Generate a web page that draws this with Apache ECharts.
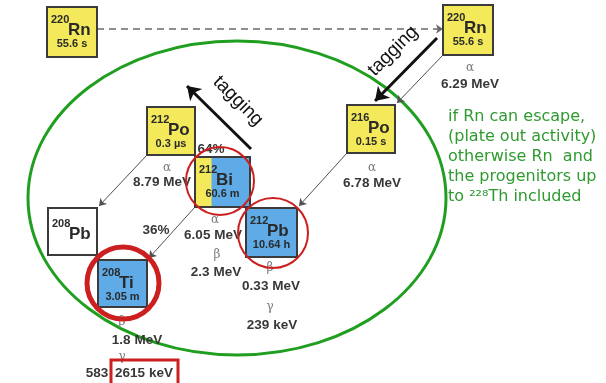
<!DOCTYPE html>
<html><head><meta charset="utf-8">
<script src="https://cdn.jsdelivr.net/npm/echarts@6/dist/echarts.min.js"></script>
<style>html,body{margin:0;padding:0;background:#fff}#c{width:606px;height:383px}</style>
</head><body><div id="c"></div>
<script>
// ---------- values ----------
const massNumbers    = ['220','220','212','216','212','208','212','208'];
const elementSymbols = ['Rn','Rn','Po','Po','Bi','Pb','Pb','Ti'];
const halfLives      = ['55.6 s','55.6 s','0.3 µs','0.15 s','60.6 m','','10.64 h','3.05 m'];
const decayTypes     = ['α','α','α','α','β','β','γ','β','γ'];
const decayEnergies  = ['6.29 MeV','6.78 MeV','8.79 MeV','6.05 MeV','2.3 MeV','0.33 MeV','239 keV','1.8 MeV','583','2615 keV'];
const branchRatios   = ['64%','36%'];
const tagLabels      = ['tagging','tagging'];
const noteLines      = ['if Rn can escape,','(plate out activity)','otherwise Rn  and','the progenitors up','to ²²⁸Th included'];

// ---------- layout (diagram coordinates) ----------
const boxLeft   = [47,443,147,347,195,48,246,98];
const boxTop    = [7,5,107,105,157,208,208,260];
const boxWidth  = [50,50,48,48,55,49,51,49];
const boxHeight = [50,50,48,48,50,47,49,47];
const boxFill   = ['y','y','y','y','yb','w','b','b'];
const typeX = [470,372,167,215,217,270,270,122,122];
const typeY = [68,168,168,220,255,268,307,322,357];
const energyX = [470,372,162,213,216,271,272,137,97,144];
const energyY = [84,183,182,235,272,286,325,340,373,373];
const branchX = [211,156];
const branchY = [149,230];
const tagX = [238,393];
const tagY = [101,51];
const tagAngle = [-45,45];
const decayLinks = [
  [[97,29],[443,29]],
  [[443,55],[397,103]],
  [[347,153],[299,206]],
  [[147,155],[99,206]],
  [[195,207],[149,258]]
];
const tagArrows = [[[251,149],[187,86]],[[437,38],[375,101]]];
const circleCenters = [[220,181],[273,233],[123,283]];
const circleSizes = [68,70,72];
const circleWidths = [2,2,5];
const ellipseCenter = [237,198];
const ellipseRadii = [209,157];
const noteX = 448, noteY0 = 117, noteStep = 20;
const highlightBox = [111,360,67,28];

const YELLOW = '#f3e95a', BLUE = '#5eabe8', EDGE = '#3b3b3b', RED = '#cc1f1f', GREEN = '#1f9e1f';

const chart = echarts.init(document.getElementById('c'), null, {renderer:'canvas'});

function boxRender(params, api) {
  const i = params.dataIndex;
  const p = api.coord([api.value(0), api.value(1)]);
  const s = api.size([boxWidth[i], boxHeight[i]]);
  const x = p[0], y = p[1], w = s[0], h = s[1];
  const ch = [];
  const f = boxFill[i];
  if (f === 'yb') {
    ch.push({type:'rect', shape:{x, y, width:w, height:h}, style:{fill:BLUE}});
    ch.push({type:'rect', shape:{x, y, width:w*0.3, height:h}, style:{fill:YELLOW}});
  } else {
    ch.push({type:'rect', shape:{x, y, width:w, height:h}, style:{fill: f==='y'?YELLOW:(f==='b'?BLUE:'#ffffff')}});
  }
  ch.push({type:'rect', shape:{x, y, width:w, height:h}, style:{fill:'none', stroke:EDGE, lineWidth:2}});
  const dy = halfLives[i] ? 0 : 3;
  ch.push({type:'text', x:x+4, y:y+13+dy, style:{text:massNumbers[i], fill:'#2a2a2a', font:'bold 11px "Liberation Sans", Arial, sans-serif', align:'left', verticalAlign:'middle'}});
  ch.push({type:'text', x:x+21, y:y+23+dy, style:{text:elementSymbols[i], fill:'#2a2a2a', font:'bold 17px "Liberation Sans", Arial, sans-serif', align:'left', verticalAlign:'middle'}});
  if (halfLives[i]) ch.push({type:'text', x:x+w/2, y:y+37, style:{text:halfLives[i], fill:'#2a2a2a', font:'bold 11px "Liberation Sans", Arial, sans-serif', align:'center', verticalAlign:'middle'}});
  return {type:'group', children:ch};
}

function textRender(texts, font, color, angles) {
  return function(params, api) {
    const i = params.dataIndex;
    const p = api.coord([api.value(0), api.value(1)]);
    return {type:'text', x:p[0], y:p[1], rotation: angles ? angles[i]*Math.PI/180 : 0,
      style:{text:texts[i], font, fill:color, align:'center', verticalAlign:'middle'}};
  };
}

const option = {
  backgroundColor:'#ffffff',
  animation:false,
  grid:{left:0,right:0,top:0,bottom:0},
  xAxis:{type:'value', min:0, max:606, show:false},
  yAxis:{type:'value', min:0, max:383, inverse:true, show:false},
  series:[
    {type:'custom', z:1, data:[ellipseCenter], renderItem:(params, api)=>{
      const c = api.coord([api.value(0), api.value(1)]);
      const r = api.size(ellipseRadii);
      return {type:'ellipse', shape:{cx:c[0], cy:c[1], rx:r[0], ry:r[1]}, style:{fill:'none', stroke:GREEN, lineWidth:3}};
    }},
    {type:'lines', coordinateSystem:'cartesian2d', z:2,
      symbol:['none','arrow'], symbolSize:[0,7],
      data: decayLinks.map((c,k)=>({coords:c, lineStyle:{type: k===0?[7,5]:'solid', color: k===0?'#6a6a6a':'#505050', width: k===0?1.5:1, opacity:1}})),
      lineStyle:{color:'#505050', width:1, opacity:1}},
    {type:'custom', z:3, data: boxLeft.map((x,i)=>[x, boxTop[i]]), renderItem: boxRender},
    {type:'custom', z:4, data: typeX.map((x,i)=>[x, typeY[i]]), renderItem: textRender(decayTypes, '12px "DejaVu Serif", serif', '#7a7a7a')},
    {type:'custom', z:4, data: energyX.map((x,i)=>[x, energyY[i]]), renderItem: textRender(decayEnergies, 'bold 13.5px "Liberation Sans", Arial, sans-serif', '#383838')},
    {type:'custom', z:4, data: branchX.map((x,i)=>[x, branchY[i]]), renderItem: textRender(branchRatios, 'bold 13.5px "Liberation Sans", Arial, sans-serif', '#383838')},
    {type:'custom', z:4, data: tagX.map((x,i)=>[x, tagY[i]]), renderItem: textRender(tagLabels, '19px "Liberation Sans", Arial, sans-serif', '#111', tagAngle)},
    {type:'custom', z:4, data: noteLines.map((t,i)=>[noteX, noteY0+i*noteStep]), renderItem:(params, api)=>{
      const p = api.coord([api.value(0), api.value(1)]);
      return {type:'text', x:p[0], y:p[1], style:{text:noteLines[params.dataIndex], font:'16px "Comic Sans MS", "DejaVu Sans", sans-serif', fill:'#2f9a2f', align:'left', verticalAlign:'middle'}};
    }},
    {type:'custom', z:5, data:[highlightBox], renderItem:(params, api)=>{
      const p = api.coord([api.value(0), api.value(1)]);
      const s = api.size([api.value(2), api.value(3)]);
      return {type:'rect', shape:{x:p[0], y:p[1], width:s[0], height:s[1]}, style:{fill:'none', stroke:RED, lineWidth:3}};
    }},
    {type:'scatter', z:6, symbol:'circle',
      data: circleCenters.map((c,i)=>({value:c, symbolSize:circleSizes[i], itemStyle:{borderWidth:circleWidths[i]}})),
      itemStyle:{color:'rgba(0,0,0,0)', borderColor:RED, borderWidth:2, opacity:1}, silent:true},
    {type:'lines', coordinateSystem:'cartesian2d', z:7,
      symbol:['none','arrow'], symbolSize:[0,13],
      data: tagArrows.map(c=>({coords:c})),
      lineStyle:{color:'#111', width:3, opacity:1}}
  ]
};
chart.setOption(option);
</script></body></html>
